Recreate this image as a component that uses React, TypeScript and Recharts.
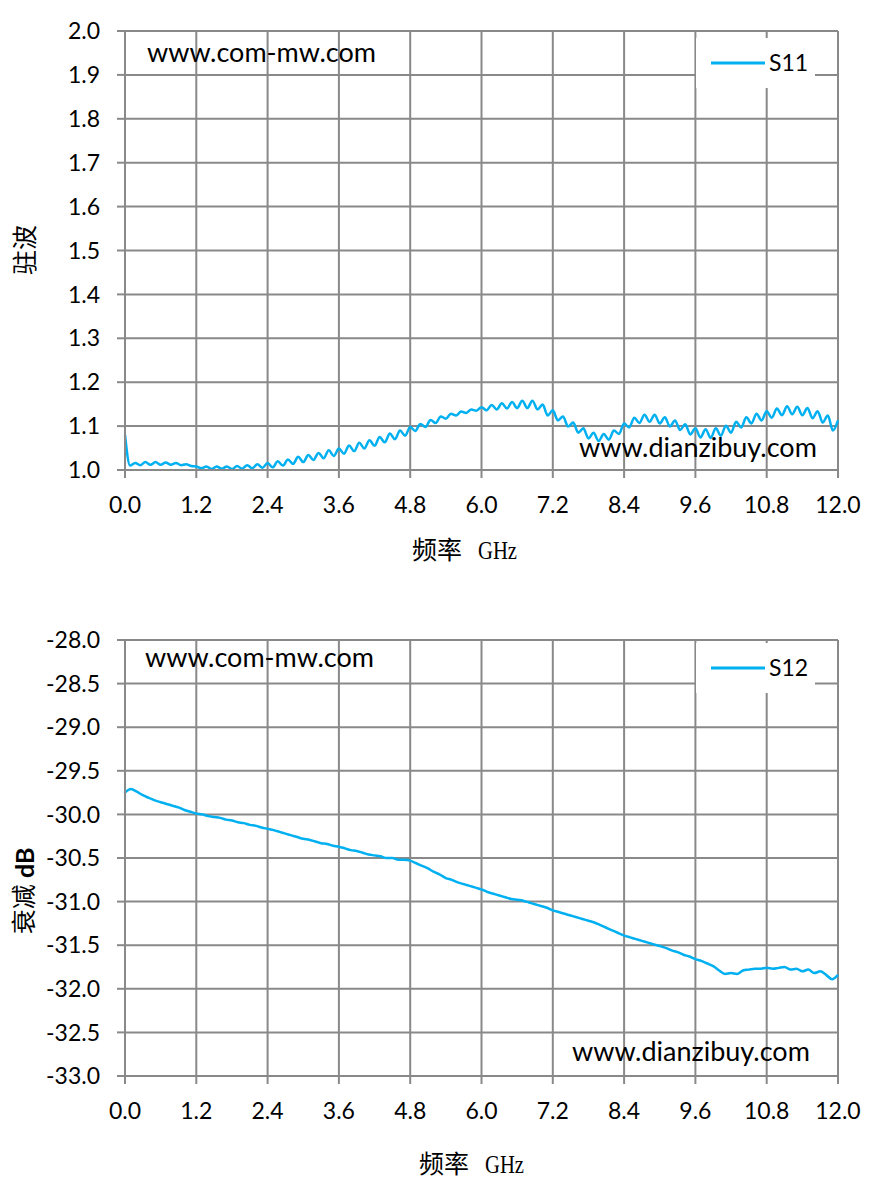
import React from "react";
import { CartesianGrid, Legend, Line, LineChart, XAxis, YAxis } from "recharts";

// VSWR (S11), 141 sweep points from 0 to 12 GHz
const s11Values = [
  1.080, 1.010, 1.016, 1.011, 1.018, 1.012, 1.018, 1.012, 1.017, 1.012,
  1.016, 1.011, 1.013, 1.009, 1.008, 1.004, 1.008, 1.002, 1.008, 1.003,
  1.008, 1.002, 1.009, 1.003, 1.011, 1.004, 1.013, 1.005, 1.016, 1.006,
  1.020, 1.010, 1.024, 1.014, 1.030, 1.018, 1.034, 1.023, 1.039, 1.027,
  1.045, 1.032, 1.049, 1.037, 1.056, 1.043, 1.062, 1.049, 1.068, 1.055,
  1.075, 1.063, 1.083, 1.070, 1.090, 1.078, 1.098, 1.089, 1.105, 1.098,
  1.114, 1.107, 1.122, 1.117, 1.128, 1.124, 1.133, 1.130, 1.138, 1.135,
  1.143, 1.136, 1.148, 1.138, 1.152, 1.140, 1.155, 1.141, 1.158, 1.141,
  1.158, 1.138, 1.149, 1.124, 1.136, 1.113, 1.122, 1.099, 1.108, 1.085,
  1.095, 1.072, 1.085, 1.066, 1.082, 1.069, 1.090, 1.082, 1.106, 1.097,
  1.119, 1.107, 1.126, 1.110, 1.126, 1.106, 1.120, 1.099, 1.113, 1.091,
  1.104, 1.081, 1.095, 1.074, 1.093, 1.073, 1.095, 1.078, 1.101, 1.085,
  1.110, 1.097, 1.120, 1.106, 1.128, 1.113, 1.134, 1.119, 1.140, 1.125,
  1.145, 1.127, 1.144, 1.125, 1.141, 1.118, 1.134, 1.108, 1.124, 1.090,
  1.113,
];

// attenuation (S12) in dB, every 0.1 GHz from 0 to 12 GHz
const s12Values = [
  -29.75, -29.71, -29.74, -29.78, -29.81, -29.84, -29.86, -29.88, -29.9, -29.92,
  -29.95, -29.97, -29.99, -30.0, -30.02, -30.03, -30.04, -30.06, -30.07, -30.09,
  -30.1, -30.12, -30.13, -30.15, -30.165, -30.18, -30.2, -30.22, -30.24, -30.26,
  -30.28, -30.29, -30.31, -30.33, -30.34, -30.36, -30.37, -30.39, -30.41, -30.42,
  -30.44, -30.46, -30.47, -30.48, -30.5, -30.5, -30.52, -30.52, -30.53, -30.56,
  -30.59, -30.62, -30.66, -30.69, -30.73, -30.75, -30.78, -30.8, -30.82, -30.84,
  -30.86, -30.89, -30.91, -30.93, -30.95, -30.97, -30.98, -30.99, -31.01, -31.03,
  -31.05, -31.07, -31.1, -31.12, -31.14, -31.16, -31.18, -31.2, -31.22, -31.24,
  -31.27, -31.3, -31.33, -31.36, -31.39, -31.41, -31.43, -31.45, -31.47, -31.49,
  -31.51, -31.53, -31.56, -31.58, -31.61, -31.63, -31.66, -31.68, -31.71, -31.74,
  -31.79, -31.83, -31.82, -31.83, -31.79, -31.78, -31.77, -31.77, -31.76, -31.77,
  -31.76, -31.75, -31.78, -31.77, -31.8, -31.78, -31.82, -31.8, -31.84, -31.89,
  -31.84,
];

const freqTicks = [0, 1.2, 2.4, 3.6, 4.8, 6.0, 7.2, 8.4, 9.6, 10.8, 12.0];
const s11Ticks = [1.0, 1.1, 1.2, 1.3, 1.4, 1.5, 1.6, 1.7, 1.8, 1.9, 2.0];
const s12Ticks = [-33, -32.5, -32, -31.5, -31, -30.5, -30, -29.5, -29, -28.5, -28];

const s11Data = s11Values.map((v, i) => ({ f: (i * 12) / (s11Values.length - 1), v }));
const s12Data = s12Values.map((v, i) => ({ f: (i * 12) / (s12Values.length - 1), v }));

const GRID = "#898989";
const BLUE = "#00B0F0";
const FONT = "Lato, 'Open Sans', sans-serif";
const CJK = "'Liberation Serif', 'Noto Sans CJK SC', serif";
const fmt = (n: number) => n.toFixed(1);

function LegendBox({ name }: { name: string }) {
  return (
    <div style={{ width: 119, height: 50, background: "#fff" }}>
      <svg width={119} height={50}>
        <line x1={15} x2={69} y1={25} y2={25} stroke={BLUE} strokeWidth={3} />
        <text x={73} y={33} fontFamily={FONT} fontSize={23} fill="#000">
          {name}
        </text>
      </svg>
    </div>
  );
}

type PanelProps = {
  data: { f: number; v: number }[];
  name: string;
  ticks: number[];
  domain: [number, number];
  height: number;
  marginTop: number;
  marginBottom: number;
  legendTop: number;
};

function Panel({ data, name, ticks, domain, height, marginTop, marginBottom, legendTop }: PanelProps) {
  const tickStyle = { fontSize: 23, fill: "#000", fontFamily: FONT };
  return (
    <LineChart width={879} height={height} data={data} margin={{ top: marginTop, right: 41, left: 0, bottom: marginBottom }}>
      <CartesianGrid stroke={GRID} strokeWidth={2} />
      <XAxis
        dataKey="f"
        type="number"
        domain={[0, 12]}
        ticks={freqTicks}
        interval={0}
        tickFormatter={fmt}
        height={50}
        tickSize={8}
        tickMargin={19}
        tick={tickStyle}
        axisLine={{ stroke: GRID, strokeWidth: 2 }}
        tickLine={{ stroke: GRID, strokeWidth: 2 }}
      />
      <YAxis
        type="number"
        domain={domain}
        ticks={ticks}
        interval={0}
        tickFormatter={fmt}
        width={125}
        tickSize={8}
        tickMargin={17}
        tick={tickStyle}
        axisLine={{ stroke: GRID, strokeWidth: 2 }}
        tickLine={{ stroke: GRID, strokeWidth: 2 }}
        allowDataOverflow
      />
      <Legend
        layout="horizontal"
        verticalAlign="middle"
        align="center"
        wrapperStyle={{ left: 696, top: legendTop, width: 119, height: 50 }}
        content={() => <LegendBox name={name} />}
      />
      <Line type="monotone" dataKey="v" name={name} stroke={BLUE} strokeWidth={2.5} dot={false} isAnimationActive={false} />
    </LineChart>
  );
}

function AxisTitle({ x, y }: { x: number; y: number }) {
  return (
    <text x={x} y={y}>
      频率
      <tspan dx={16} textLength={39} lengthAdjust="spacingAndGlyphs">
        GHz
      </tspan>
    </text>
  );
}

export default function App() {
  return (
    <div style={{ position: "absolute", left: 0, top: 0, width: 879, height: 1187, background: "#fff" }}>
      <div style={{ position: "absolute", left: 0, top: 0 }}>
        <Panel data={s11Data} name="S11" ticks={s11Ticks} domain={[1, 2]} height={590} marginTop={31} marginBottom={70} legendTop={38} />
      </div>
      <div style={{ position: "absolute", left: 0, top: 590 }}>
        <Panel data={s12Data} name="S12" ticks={s12Ticks} domain={[-33, -28]} height={597} marginTop={50} marginBottom={61} legendTop={53} />
      </div>
      <svg width={879} height={1187} style={{ position: "absolute", left: 0, top: 0, pointerEvents: "none" }}>
        <g fontFamily={FONT} fontSize={27} fill="#000">
          <text x={147} y={62}>www.com-mw.com</text>
          <text x={579} y={457}>www.dianzibuy.com</text>
          <text x={145} y={667}>www.com-mw.com</text>
          <text x={572} y={1061}>www.dianzibuy.com</text>
        </g>
        <g fontFamily={CJK} fontSize={25} fill="#000">
          <AxisTitle x={412} y={559} />
          <AxisTitle x={419} y={1173} />
          <text x={25} y={250} textAnchor="middle" dominantBaseline="central" transform="rotate(-90 25 250)">
            驻波
          </text>
          <text x={24} y={891} textAnchor="middle" dominantBaseline="central" transform="rotate(-90 24 891)">
            衰减 <tspan fontFamily={FONT} fontWeight="bold">dB</tspan>
          </text>
        </g>
      </svg>
    </div>
  );
}
